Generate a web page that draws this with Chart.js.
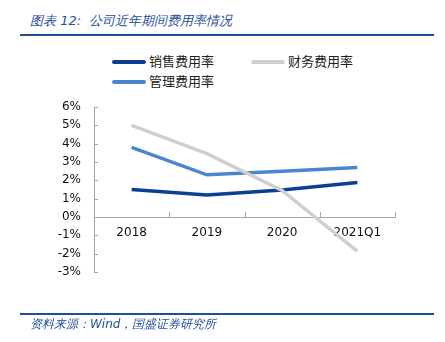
<!DOCTYPE html>
<html>
<head>
<meta charset="utf-8">
<script src="https://cdn.jsdelivr.net/npm/chart.js@4/dist/chart.umd.min.js"></script>
<style>
  body { margin: 0; background: #fff; }
  #wrap { position: relative; width: 445px; height: 342px; font-family: "DejaVu Sans", sans-serif; }
  #chart { position: absolute; left: 0; top: 0; }
  .title { position: absolute; left: 30px; top: 12px; font-size: 13px; font-style: italic; color: #1F4E9A; }
  .rule { position: absolute; left: 20px; width: 414px; height: 2px; background: #1F4E9A; }
  .src { position: absolute; left: 30px; top: 316px; font-size: 12px; font-style: italic; color: #1F4E9A; }
  .leg { position: absolute; font-size: 13px; color: #222; font-family: "Noto Sans CJK SC", sans-serif; }
  .leg i { display: inline-block; width: 34px; height: 4px; vertical-align: middle; margin-right: 3px; border-radius: 2px; }
</style>
</head>
<body>
<div id="wrap">
  <div class="title">图表 12:&nbsp; 公司近年期间费用率情况</div>
  <div class="rule" style="top:34px"></div>
  <div class="leg" style="left:112px;top:51px"><i style="background:#0B3F95"></i>销售费用率</div>
  <div class="leg" style="left:251px;top:51px"><i style="background:#CFCFCF"></i>财务费用率</div>
  <div class="leg" style="left:112px;top:71px"><i style="background:#4A86D0"></i>管理费用率</div>
  <canvas id="chart" width="445" height="342"></canvas>
  <div class="rule" style="top:313px"></div>
  <div class="src">资料来源：Wind，国盛证券研究所</div>
</div>
<script>
const categories = ['2018', '2019', '2020', '2021Q1'];
const salesRate = [1.5, 1.2, 1.47, 1.88];
const financeRate = [5.0, 3.46, 1.45, -1.88];
const adminRate = [3.8, 2.3, 2.5, 2.7];

// tick marks point into the plot in the original, draw them by hand
const innerTicks = {
  id: 'innerTicks',
  afterDraw(chart) {
    const x = chart.scales.x, y = chart.scales.y;
    const y0 = y.getPixelForValue(0);
    const c = chart.ctx;
    c.save();
    c.strokeStyle = '#A6A6A6';
    c.lineWidth = 1;
    const half = (x.getPixelForValue(1) - x.getPixelForValue(0)) / 2;
    for (let i = 0; i < categories.length; i++) {
      const px = Math.round(x.getPixelForValue(i) + half) + 0.5;
      c.beginPath();
      c.moveTo(px, y0);
      c.lineTo(px, y0 - 5);
      c.stroke();
    }
    const ax = Math.round(chart.chartArea.left);
    y.ticks.forEach((t) => {
      const py = Math.round(y.getPixelForValue(t.value)) + 0.5;
      c.beginPath();
      c.moveTo(ax, py);
      c.lineTo(ax + 4, py);
      c.stroke();
    });
    c.restore();
  },
};

const ctx = document.getElementById('chart').getContext('2d');
const chart = new Chart(ctx, {
  type: 'line',
  data: {
    labels: categories,
    datasets: [
      { label: '财务费用率', data: financeRate, borderColor: '#CFCFCF', borderWidth: 3.5 },
      { label: '管理费用率', data: adminRate, borderColor: '#4A86D0', borderWidth: 3.5 },
      { label: '销售费用率', data: salesRate, borderColor: '#0B3F95', borderWidth: 3.5 },
    ],
  },
  options: {
    responsive: false,
    animation: false,
    layout: { padding: { left: 0, right: 50, top: 107, bottom: 70 } },
    elements: { point: { radius: 0 }, line: { tension: 0 } },
    plugins: { legend: { display: false }, tooltip: { enabled: false } },
    scales: {
      x: {
        position: { y: 0 },
        offset: true,
        grid: { offset: true, drawOnChartArea: false, drawTicks: false },
        border: { color: '#A6A6A6' },
        ticks: { color: '#111', font: { family: 'DejaVu Sans', size: 12 }, padding: 9 },
        afterFit: (s) => { s.height = 0; },
      },
      y: {
        min: -3,
        max: 6,
        grid: { drawOnChartArea: false, drawTicks: false },
        border: { color: '#A6A6A6' },
        ticks: { stepSize: 1, color: '#111', font: { family: 'DejaVu Sans', size: 12 }, padding: 13,
          callback: (v) => v + '%' },
        afterFit: (s) => { s.width = 94; },
      },
    },
  },
  plugins: [innerTicks],
});
</script>
</body>
</html>
